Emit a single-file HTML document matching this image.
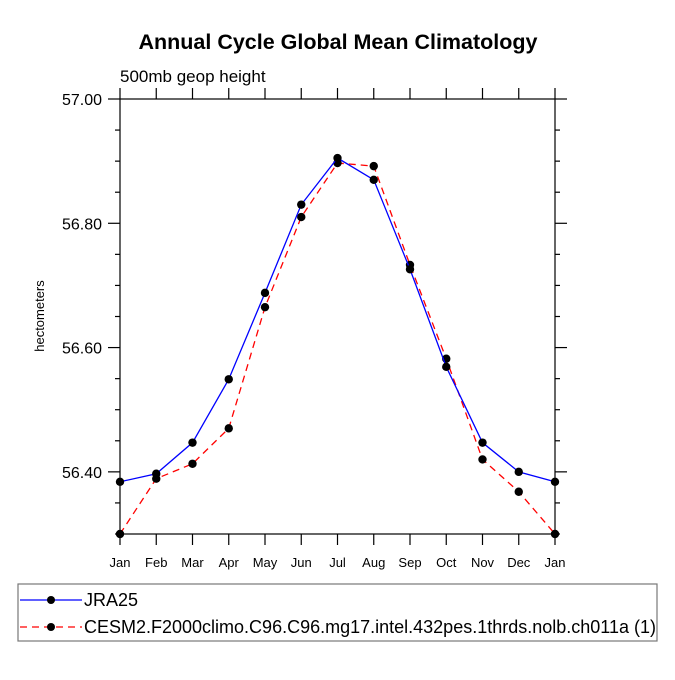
<!DOCTYPE html>
<html><head><meta charset="utf-8"><style>body{margin:0;background:#fff}svg{font-family:"Liberation Sans",sans-serif}</style></head>
<body>
<svg width="675" height="675" viewBox="0 0 675 675">
<text x="338" y="49" text-anchor="middle" font-size="21.5" font-weight="bold">Annual Cycle Global Mean Climatology</text>
<text x="120" y="82" font-size="17">500mb geop height</text>
<text transform="translate(44,316) rotate(-90)" text-anchor="middle" font-size="13">hectometers</text>
<g id="axes"></g>
<g id="series"></g>
<rect x="18" y="584" width="639" height="57" fill="none" stroke="#777" stroke-width="1.2"/>
<g>
<line x1="20" y1="600" x2="82" y2="600" stroke="#0000ff" stroke-width="1.2"/>
<circle cx="51" cy="600" r="4" fill="#000"/>
<text x="84" y="606" font-size="18">JRA25</text></g>
<g>
<line x1="20" y1="627" x2="82" y2="627" stroke="#ff0000" stroke-width="1.2" stroke-dasharray="7,5"/>
<circle cx="51" cy="627" r="4" fill="#000"/>
<text x="84" y="633" font-size="18">CESM2.F2000climo.C96.C96.mg17.intel.432pes.1thrds.nolb.ch011a (1)</text></g>
</svg>
<script>
const months=["Jan","Feb","Mar","Apr","May","Jun","Jul","Aug","Sep","Oct","Nov","Dec","Jan"];
const jra25=[56.384,56.397,56.447,56.549,56.688,56.830,56.905,56.870,56.726,56.569,56.447,56.400,56.384];
const cesm2=[56.300,56.389,56.413,56.470,56.665,56.810,56.897,56.892,56.733,56.582,56.420,56.368,56.300];
const yTicks=[56.40,56.60,56.80,57.00];
const NS="http://www.w3.org/2000/svg";
const L=120,R=555,T=99,B=534,ymin=56.3,ymax=57.0;
const xs=i=>L+(R-L)*i/(months.length-1);
const ys=v=>B-(v-ymin)/(ymax-ymin)*(B-T);
function mk(tag,attrs,parent){const e=document.createElementNS(NS,tag);for(const k in attrs)e.setAttribute(k,attrs[k]);parent.appendChild(e);return e;}
const ax=document.getElementById('axes');
const fr=mk('rect',{x:L,y:T,width:R-L,height:B-T,fill:'none',stroke:'#000','stroke-width':1.2},ax);


months.forEach((m,i)=>{const x=xs(i);
mk('line',{x1:x,y1:B,x2:x,y2:B+11,stroke:'#000','stroke-width':1.2},ax);
mk('line',{x1:x,y1:T,x2:x,y2:T-11,stroke:'#000','stroke-width':1.2},ax);
const t=mk('text',{x:x,y:B+33,'text-anchor':'middle','font-size':13},ax);t.textContent=m;

});
for(let v=ymin;v<=ymax+1e-9;v+=0.05){const y=ys(v);const maj=yTicks.some(t=>Math.abs(t-v)<1e-6);const len=maj?12:5;
mk('line',{x1:L,y1:y,x2:L-len,y2:y,stroke:'#000','stroke-width':1.2},ax);
mk('line',{x1:R,y1:y,x2:R+len,y2:y,stroke:'#000','stroke-width':1.2},ax);}
yTicks.forEach(v=>{const t=mk('text',{x:L-18,y:ys(v)+6,'text-anchor':'end','font-size':16},ax);t.textContent=v.toFixed(2);

});
const sg=document.getElementById('series');
function draw(vals,color,dash,name){
const p=mk('polyline',{points:vals.map((v,i)=>xs(i)+','+ys(v)).join(' '),fill:'none',stroke:color,'stroke-width':1.3,'stroke-dasharray':dash},sg);


vals.forEach((v,i)=>{const c=mk('circle',{cx:xs(i),cy:ys(v),r:4.2,fill:'#000'},sg);

});}
draw(cesm2,'#ff0000','7,5','cesm2');
draw(jra25,'#0000ff','none','jra25');
</script>
</body></html>
